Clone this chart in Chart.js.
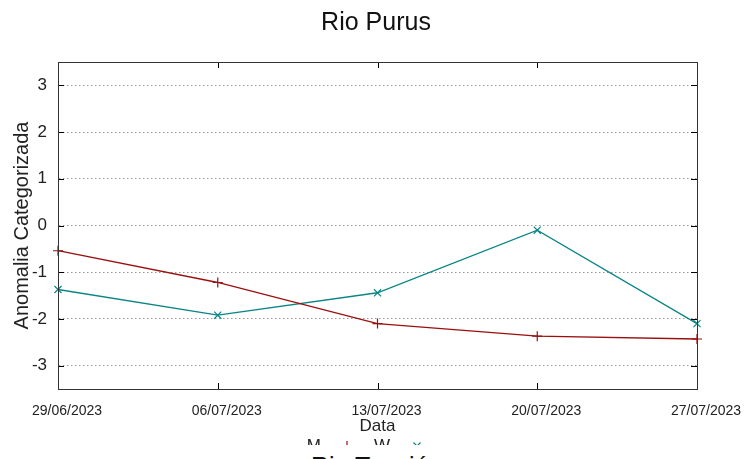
<!DOCTYPE html>
<html>
<head>
<meta charset="utf-8">
<script src="https://cdn.jsdelivr.net/npm/chart.js@4.4.1/dist/chart.umd.min.js"></script>
<style>
  html, body { margin: 0; padding: 0; background: #fff; overflow: hidden; }
  #wrap { position: relative; width: 752px; height: 445px; }
  #next { position: absolute; top: 451px; left: 0; width: 752px; text-align: center;
          font: 25px 'Liberation Sans', Arial, sans-serif; line-height: 30px; color: #111; }
</style>
</head>
<body>
<div id="wrap"><canvas id="c" width="752" height="445"></canvas></div>
<div id="next">Rio Tapajós</div>
<script>
// ---- data ----
const chartTitle = 'Rio Purus';
const dates = ['29/06/2023', '06/07/2023', '13/07/2023', '20/07/2023', '27/07/2023'];
const seriesNames = ['M', 'W'];
const seriesM = [-0.54, -1.22, -2.10, -2.37, -2.43];
const seriesW = [-1.37, -1.92, -1.44, -0.10, -2.10];
const yTickValues = [-3, -2, -1, 0, 1, 2, 3];

const RED = '#9a0f0f';
const TEAL = '#0a8585';
const SANS = "'Liberation Sans', Arial, sans-serif";

const framePlugin = {
  id: 'frame',
  afterDatasetsDraw(chart) {
    const { ctx, chartArea: a, scales } = chart;
    ctx.save();
    ctx.setLineDash([]);
    ctx.strokeStyle = '#000';
    ctx.lineWidth = 1;
    ctx.beginPath();
    const L = 6;
    scales.y.ticks.forEach(t => {
      const y = Math.round(scales.y.getPixelForValue(t.value)) + 0.5;
      ctx.moveTo(a.left, y); ctx.lineTo(a.left + L, y);
      ctx.moveTo(a.right, y); ctx.lineTo(a.right - L, y);
    });
    dates.forEach((d, i) => {
      const x = Math.round(scales.x.getPixelForValue(i)) + 0.5;
      ctx.moveTo(x, a.bottom); ctx.lineTo(x, a.bottom - L);
      ctx.moveTo(x, a.top); ctx.lineTo(x, a.top + L);
    });
    ctx.stroke();
    ctx.strokeStyle = '#333';
    ctx.strokeRect(Math.round(a.left) + 0.5, Math.round(a.top) + 0.5,
                   Math.round(a.right - a.left), Math.round(a.bottom - a.top));
    ctx.restore();
  },
  afterDraw(chart) {
    // key (gnuplot style: text then sample), mostly clipped by the canvas edge
    const { ctx } = chart;
    ctx.save();
    ctx.font = '17px ' + SANS;
    ctx.fillStyle = '#222';
    ctx.textBaseline = 'alphabetic';
    ctx.textAlign = 'right';
    const yKey = 451;
    const entries = [
      { label: seriesNames[0], color: RED, style: 'cross', tx: 321, sx: 347 },
      { label: seriesNames[1], color: TEAL, style: 'crossRot', tx: 390, sx: 417 }
    ];
    entries.forEach(e => {
      ctx.fillText(e.label, e.tx, yKey);
      ctx.strokeStyle = e.color;
      ctx.lineWidth = 1.2;
      ctx.beginPath();
      ctx.moveTo(e.sx - 20, yKey - 5); ctx.lineTo(e.sx + 20, yKey - 5);
      ctx.stroke();
      Chart.helpers.drawPoint(ctx, { pointStyle: e.style, radius: 5, borderWidth: 1.2 }, e.sx, yKey - 5);
    });
    ctx.restore();
  }
};

new Chart(document.getElementById('c'), {
  type: 'line',
  data: {
    labels: dates,
    datasets: [
      {
        label: seriesNames[0], data: seriesM,
        borderColor: RED, backgroundColor: RED, borderWidth: 1.3,
        pointStyle: 'cross', pointRadius: 5, pointBorderWidth: 1.2, pointBorderColor: RED,
        tension: 0, fill: false, clip: false
      },
      {
        label: seriesNames[1], data: seriesW,
        borderColor: TEAL, backgroundColor: TEAL, borderWidth: 1.3,
        pointStyle: 'crossRot', pointRadius: 5, pointBorderWidth: 1.2, pointBorderColor: TEAL,
        tension: 0, fill: false, clip: false
      }
    ]
  },
  options: {
    responsive: false,
    animation: false,
    layout: { padding: 0 },
    plugins: {
      legend: { display: false },
      tooltip: { enabled: false },
      title: {
        display: true, text: chartTitle, color: '#111',
        font: { family: SANS, size: 25, weight: 'normal' },
        padding: { top: 8, bottom: 24 }
      }
    },
    scales: {
      x: {
        type: 'category',
        offset: false,
        grid: { display: false, drawTicks: false },
        border: { display: true, color: '#333', width: 1 },
        ticks: {
          autoSkip: false, maxRotation: 0, minRotation: 0,
          color: '#222', padding: 14, labelOffset: 9,
          font: { family: SANS, size: 14 }
        },
        title: {
          display: true, text: 'Data', color: '#222',
          font: { family: SANS, size: 17 },
          padding: { top: 0, bottom: 8 }
        },
        afterFit(s) { s.height = 56; }
      },
      y: {
        min: -3.5, max: 3.5,
        afterBuildTicks(s) { s.ticks = yTickValues.map(v => ({ value: v })); },
        grid: { color: '#9a9a9a', lineWidth: 1, drawTicks: false },
        border: { display: true, color: '#333', width: 1, dash: [1.5, 2.5] },
        ticks: {
          color: '#222', padding: 11,
          font: { family: SANS, size: 17 }
        },
        title: {
          display: true, text: 'Anomalia Categorizada', color: '#222',
          font: { family: SANS, size: 20 },
          padding: { top: 10, bottom: 0 }
        },
        afterFit(s) { s.width = 58; }
      },
      yRight: {
        position: 'right',
        display: true,
        grid: { display: false, drawTicks: false },
        border: { display: false },
        ticks: { display: false },
        afterFit(s) { s.width = 55; }
      }
    }
  },
  plugins: [framePlugin]
});
</script>
</body>
</html>
